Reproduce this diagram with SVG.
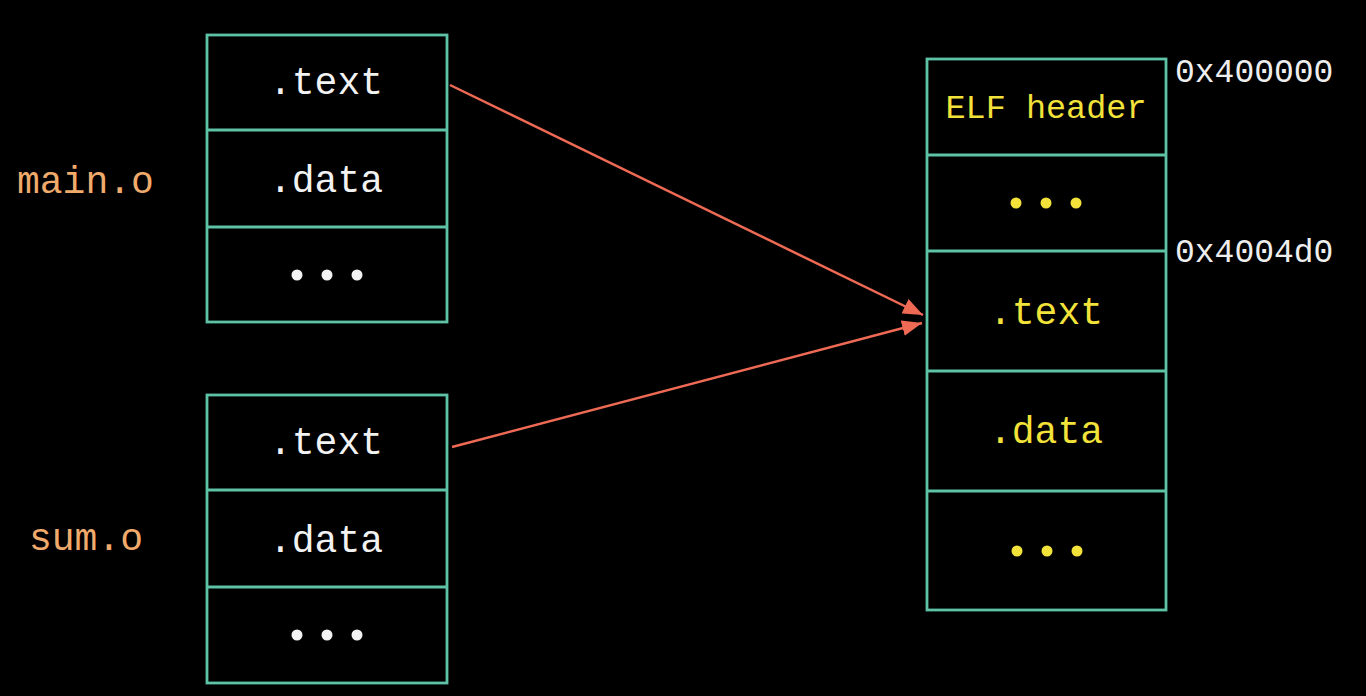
<svg xmlns="http://www.w3.org/2000/svg" width="1366" height="696" viewBox="0 0 1366 696">
  <style>
    .box { fill: none; stroke: #5ec2a6; stroke-width: 2.8; }
    .sep { stroke: #5ec2a6; stroke-width: 2.8; }
    .mono { font-family: "Liberation Mono", "DejaVu Sans Mono", monospace; text-anchor: middle; }
    .w { fill: #f2f2f2; font-size: 38px; }
    .y { fill: #f2e23a; font-size: 38px; }
    .obj { fill: #f0ab6c; font-size: 38px; text-anchor: start; }
    .addr { fill: #eeeeee; font-size: 33px; text-anchor: start; }
    .link { stroke: #ee6a55; stroke-width: 2.5; fill: none; marker-end: url(#head); }
  </style>
  <defs>
    <marker id="head" viewBox="0 0 20 16" refX="20" refY="8" markerWidth="20" markerHeight="16" markerUnits="userSpaceOnUse" orient="auto">
      <path d="M0,0 L20,8 L0,16 Z" fill="#ee6a55"/>
    </marker>
  </defs>
  <rect width="1366" height="696" fill="#000"/>

  <!-- object file labels -->
  <text id="label-main" class="mono obj" x="17" y="193">main.o</text>
  <text id="label-sum" class="mono obj" x="29" y="550">sum.o</text>

  <!-- main.o sections -->
  <g id="main-o">
    <rect class="box" x="207" y="35" width="240" height="287"/>
    <line class="sep" x1="207" y1="130" x2="447" y2="130"/>
    <line class="sep" x1="207" y1="227" x2="447" y2="227"/>
    <text class="mono w" x="326" y="94">.text</text>
    <text class="mono w" x="326" y="192">.data</text>
    <g fill="#f2f2f2"><circle cx="297" cy="275" r="5.5"/><circle cx="327" cy="275" r="5.5"/><circle cx="357" cy="275" r="5.5"/></g>
  </g>

  <!-- sum.o sections -->
  <g id="sum-o">
    <rect class="box" x="207" y="395" width="240" height="288"/>
    <line class="sep" x1="207" y1="490" x2="447" y2="490"/>
    <line class="sep" x1="207" y1="587" x2="447" y2="587"/>
    <text class="mono w" x="326" y="454">.text</text>
    <text class="mono w" x="326" y="552">.data</text>
    <g fill="#f2f2f2"><circle cx="297" cy="635" r="5.5"/><circle cx="327" cy="635" r="5.5"/><circle cx="357" cy="635" r="5.5"/></g>
  </g>

  <!-- linked executable -->
  <g id="executable">
    <rect class="box" x="927" y="59" width="239" height="551"/>
    <line class="sep" x1="927" y1="155" x2="1166" y2="155"/>
    <line class="sep" x1="927" y1="251" x2="1166" y2="251"/>
    <line class="sep" x1="927" y1="371" x2="1166" y2="371"/>
    <line class="sep" x1="927" y1="491" x2="1166" y2="491"/>
    <text class="mono y" x="1046" y="118" style="font-size:33.5px">ELF header</text>
    <g fill="#f2e23a"><circle cx="1016" cy="203" r="5.5"/><circle cx="1046" cy="203" r="5.5"/><circle cx="1076" cy="203" r="5.5"/></g>
    <text class="mono y" x="1046" y="324">.text</text>
    <text class="mono y" x="1046" y="443">.data</text>
    <g fill="#f2e23a"><circle cx="1017" cy="551" r="5.5"/><circle cx="1047" cy="551" r="5.5"/><circle cx="1077" cy="551" r="5.5"/></g>
  </g>

  <!-- addresses -->
  <g id="addresses">
    <text class="mono addr" x="1175" y="82">0x400000</text>
    <text class="mono addr" x="1175" y="262">0x4004d0</text>
  </g>

  <!-- relocation arrows -->
  <g id="connectors">
    <line class="link" x1="450" y1="85" x2="923" y2="315"/>
    <line class="link" x1="452" y1="447" x2="922" y2="323"/>
  </g>
</svg>
